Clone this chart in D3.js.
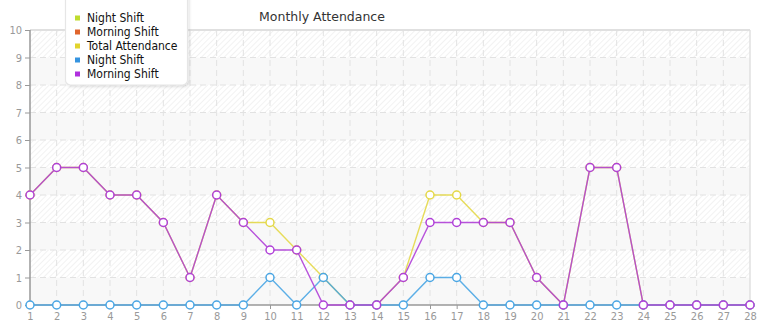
<!DOCTYPE html>
<html>
<head>
<meta charset="utf-8">
<script src="https://cdn.jsdelivr.net/npm/d3@7"></script>
<style>
  body { margin: 0; background: #fff; }
  svg { font-family: "DejaVu Sans Condensed", "DejaVu Sans", sans-serif; }
</style>
</head>
<body>
<svg id="chart" width="765" height="320"></svg>
<script>
var width = 765,
    height = 320;

// days of the month
const days = d3.range(1, 29);
const morning_shift = [4, 5, 5, 4, 4, 3, 1, 4, 3, 2, 2, 0, 0, 0, 1, 3, 3, 3, 3, 1, 0, 5, 5, 0, 0, 0, 0, 0];
const night_shift   = [0, 0, 0, 0, 0, 0, 0, 0, 0, 1, 0, 1, 0, 0, 0, 1, 1, 0, 0, 0, 0, 0, 0, 0, 0, 0, 0, 0];
const total_attendance = [4, 5, 5, 4, 4, 3, 1, 4, 3, 3, 2, 1, 0, 0, 1, 4, 4, 3, 3, 1, 0, 5, 5, 0, 0, 0, 0, 0];
const y_ticks = d3.range(0, 11);

const legend_items = [
    { name: "Night Shift", color: "#bfdc2e" },
    { name: "Morning Shift", color: "#e0652c" },
    { name: "Total Attendance", color: "#e2d42c" },
    { name: "Night Shift", color: "#3594e0" },
    { name: "Morning Shift", color: "#b030de" }
];

// drawn in this order, morning on top
const series = [
    { values: total_attendance, color: "#e4d848" },
    { values: night_shift, color: "#4aa6e4" },
    { values: morning_shift, color: "#b040d8" }
];

const margin = { top: 30, right: 15, bottom: 15, left: 30 };
const plot_w = width - margin.left - margin.right;
const plot_h = height - margin.top - margin.bottom;

var svg = d3.select("#chart");

// hatch pattern for plot background
var defs = svg.append("defs");
var pattern = defs.append("pattern")
    .attr("id", "hatch")
    .attr("patternUnits", "userSpaceOnUse")
    .attr("width", 4)
    .attr("height", 4)
    .attr("patternTransform", "rotate(45)");
pattern.append("rect").attr("width", 4).attr("height", 4).attr("fill", "#fff");
pattern.append("line")
    .attr("x1", 0).attr("y1", 0).attr("x2", 0).attr("y2", 4)
    .attr("stroke", "#ebebeb").attr("stroke-width", 1.3);

var shadow = defs.append("filter").attr("id", "shadow")
    .attr("x", "-10%").attr("y", "-10%").attr("width", "130%").attr("height", "130%");
shadow.append("feDropShadow")
    .attr("dx", 1.5).attr("dy", 1.5).attr("stdDeviation", 1.2)
    .attr("flood-color", "#000").attr("flood-opacity", 0.12);

var x = d3.scaleLinear().domain([1, 28]).range([0, plot_w]);
var y = d3.scaleLinear().domain([0, 10]).range([plot_h, 0]);

var g = svg.append("g").attr("transform", "translate(" + margin.left + "," + margin.top + ")");

// alternating bands
g.selectAll("rect.band")
    .data(y_ticks.slice(0, 10))
    .join("rect")
    .attr("class", "band")
    .attr("x", 0)
    .attr("width", plot_w)
    .attr("y", function (d) { return y(d + 1); })
    .attr("height", function (d) { return y(d) - y(d + 1); })
    .attr("fill", function (d) { return d % 2 == 1 ? "url(#hatch)" : "#f8f8f8"; });

// grid
g.append("g")
    .selectAll("line")
    .data(y_ticks.slice(1))
    .join("line")
    .attr("x1", 0).attr("x2", plot_w)
    .attr("y1", function (d) { return y(d); })
    .attr("y2", function (d) { return y(d); })
    .attr("stroke", "#e2e2e2")
    .attr("stroke-dasharray", "6,4");

g.append("g")
    .selectAll("line")
    .data(days.slice(1, -1))
    .join("line")
    .attr("y1", 0).attr("y2", plot_h)
    .attr("x1", function (d) { return x(d); })
    .attr("x2", function (d) { return x(d); })
    .attr("stroke", "#e2e2e2")
    .attr("stroke-dasharray", "6,4");

// border top / right
g.append("line").attr("x1", 0).attr("x2", plot_w).attr("y1", 0).attr("y2", 0)
    .attr("stroke", "#e0e0e0").attr("stroke-width", 2);
g.append("line").attr("x1", plot_w).attr("x2", plot_w).attr("y1", 0).attr("y2", plot_h)
    .attr("stroke", "#e0e0e0").attr("stroke-width", 1.5);

// axes
var yAxis = d3.axisLeft(y).tickValues(y_ticks).tickSize(5).tickPadding(3);
var xAxis = d3.axisBottom(x).tickValues(days).tickSize(4).tickPadding(3);

var yg = g.append("g").call(yAxis);
var xg = g.append("g").attr("transform", "translate(0," + plot_h + ")").call(xAxis);
[yg, xg].forEach(function (a) {
    a.select(".domain").attr("stroke", "#999").attr("stroke-width", 1.5);
    a.selectAll(".tick line").attr("stroke", "#999");
    a.selectAll("text").attr("fill", "#999").style("font-size", "11px")
        .style("font-family", "DejaVu Sans Condensed, DejaVu Sans, sans-serif");
});
yg.select(".domain").attr("d", "M0," + plot_h + "V0");
xg.select(".domain").attr("d", "M0,0H" + plot_w);

// lines + markers
var line = d3.line()
    .x(function (d, i) { return x(days[i]); })
    .y(function (d) { return y(d); });

series.forEach(function (s) {
    var sg = g.append("g");
    sg.append("path")
        .attr("d", line(s.values))
        .attr("fill", "none")
        .attr("stroke", s.color)
        .attr("stroke-width", 1.4)
        .attr("stroke-opacity", 0.9);
    sg.selectAll("circle")
        .data(s.values)
        .join("circle")
        .attr("cx", function (d, i) { return x(days[i]); })
        .attr("cy", function (d) { return y(d); })
        .attr("r", 4)
        .attr("fill", "#fff")
        .attr("stroke", s.color)
        .attr("stroke-width", 1.5);
});

// title
svg.append("text")
    .attr("x", 322)
    .attr("y", 21)
    .attr("text-anchor", "middle")
    .attr("fill", "#333")
    .style("font-family", "DejaVu Sans, sans-serif")
    .style("font-size", "12.5px")
    .text("Monthly Attendance");

// legend
var lg = svg.append("g");
lg.append("rect")
    .attr("x", 65.5).attr("y", -10)
    .attr("width", 122).attr("height", 95)
    .attr("rx", 5)
    .attr("fill", "#fff")
    .attr("stroke", "#e6e6e6")
    .attr("stroke-width", 1.2)
    .attr("filter", "url(#shadow)");
var items = lg.selectAll("g.item")
    .data(legend_items)
    .join("g")
    .attr("class", "item")
    .attr("transform", function (d, i) { return "translate(75," + (18 + i * 14) + ")"; });
items.append("rect")
    .attr("x", 0).attr("y", -2.5)
    .attr("width", 5).attr("height", 5)
    .attr("fill", function (d) { return d.color; });
items.append("text")
    .attr("x", 12).attr("y", 4.2)
    .attr("fill", "#111")
    .style("font-size", "12px")
    .text(function (d) { return d.name; });
</script>
</body>
</html>
